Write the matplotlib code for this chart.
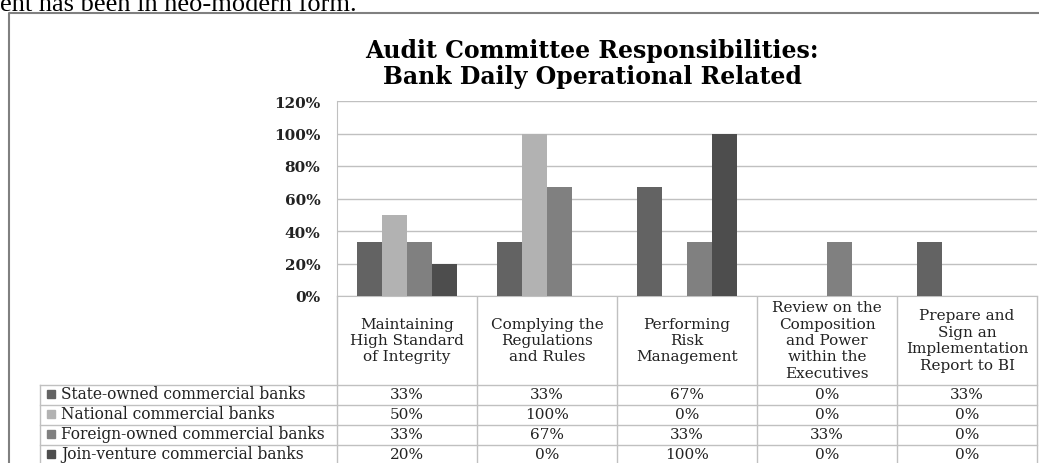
import numpy as np
import matplotlib.pyplot as plt

plt.rcParams["font.family"] = "DejaVu Serif"

# 数据
categories = [
    "Maintaining\nHigh Standard\nof Integrity",
    "Complying the\nRegulations\nand Rules",
    "Performing\nRisk\nManagement",
    "Review on the\nComposition\nand Power\nwithin the\nExecutives",
    "Prepare and\nSign an\nImplementation\nReport to BI",
]
series_names = [
    "State-owned commercial banks",
    "National commercial banks",
    "Foreign-owned commercial banks",
    "Join-venture commercial banks",
]
state_owned = [33, 33, 67, 0, 33]
national = [50, 100, 0, 0, 0]
foreign_owned = [33, 67, 33, 33, 0]
joint_venture = [20, 0, 100, 0, 0]
yticks = [0, 20, 40, 60, 80, 100, 120]

series = [state_owned, national, foreign_owned, joint_venture]
colors = ["#636363", "#b2b2b2", "#808080", "#4d4d4d"]

W, H = 1039, 464
fig = plt.figure(figsize=(W / 100, H / 100), dpi=100)

# 整张图的像素坐标层：边框、标题、表格
bg = fig.add_axes([0, 0, 1, 1])
bg.set_xlim(0, W)
bg.set_ylim(H, 0)
bg.axis("off")

bg.text(0, 11, "ent has been in neo-modern form.", fontsize=19,
        family="Liberation Serif", va="baseline", ha="left")
bg.plot([9, 9, W + 5], [H + 5, 14, 14], color="#808080", lw=1.5)

bg.text(592, 58, "Audit Committee Responsibilities:", fontsize=17,
        fontweight="bold", ha="center", va="baseline")
bg.text(592, 84, "Bank Daily Operational Related", fontsize=17,
        fontweight="bold", ha="center", va="baseline")

# 柱状图
x0, x1, y0, y1 = 337, 1037, 297, 102
ax = fig.add_axes([x0 / W, (H - y0) / H, (x1 - x0) / W, (y0 - y1) / H])
x = np.arange(len(categories))
w = 25 / 140
for i, vals in enumerate(series):
    ax.bar(x + (i - 1.5) * w, vals, width=w, color=colors[i], zorder=3)
ax.set_xlim(-0.5, len(categories) - 0.5)
ax.set_ylim(0, 120)
ax.set_yticks(yticks)
ax.set_yticklabels([f"{t}%" for t in yticks], fontsize=11, fontweight="bold",
                   color="#222222")
ax.tick_params(axis="y", length=0, pad=12)
ax.set_xticks([])
ax.grid(axis="y", color="#c0c0c0", lw=1, zorder=0)
for s in ["top", "right"]:
    ax.spines[s].set_visible(False)
for s in ["left", "bottom"]:
    ax.spines[s].set_color("#c0c0c0")

# 数据表
col_edges = np.linspace(x0, x1, len(categories) + 1)
row_edges = [386, 406, 426, 446, 466]
lc = "#c0c0c0"
for xe in col_edges:
    bg.plot([xe, xe], [y0, H + 5], color=lc, lw=1)
for ye in row_edges[:-1]:
    bg.plot([40, x1], [ye, ye], color=lc, lw=1)
bg.plot([40, 40], [386, H + 5], color=lc, lw=1)

for j, cat in enumerate(categories):
    cx = (col_edges[j] + col_edges[j + 1]) / 2
    bg.text(cx, 341, cat, fontsize=11, ha="center", va="center",
            linespacing=1.22, color="#222222")

for i, name in enumerate(series_names):
    cy = (row_edges[i] + row_edges[i + 1]) / 2 - 1
    bg.add_patch(plt.Rectangle((47, cy - 4), 8, 8, color=colors[i]))
    bg.text(61, cy, name, fontsize=11.2, ha="left", va="center", color="#222222")
    for j, v in enumerate(series[i]):
        cx = (col_edges[j] + col_edges[j + 1]) / 2
        bg.text(cx, cy, f"{v}%", fontsize=11, ha="center", va="center",
                color="#222222")

fig.savefig("out.png", dpi=100)
